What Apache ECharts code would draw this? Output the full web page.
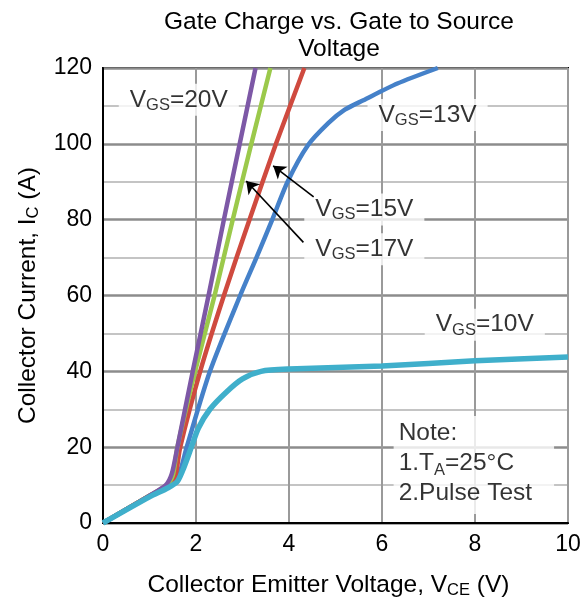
<!DOCTYPE html>
<html><head><meta charset="utf-8">
<script src="https://cdn.jsdelivr.net/npm/echarts@6/dist/echarts.min.js"></script>
<style>html,body{margin:0;padding:0;background:#fff}#c{width:585px;height:605px}</style>
</head><body><div id="c"></div>
<script>
// ---- data (VCE in V, IC in A) ----
const xTicks = [0, 2, 4, 6, 8, 10];
const yTicks = [0, 20, 40, 60, 80, 100, 120];
const vgs20 = [[0,0],[1.0,7.2],[1.35,10],[1.48,13],[1.6,20],[1.93,40],[2.27,60],[2.6,80],[2.94,100],[3.28,120]];
const vgs17 = [[0,0],[1.0,7.2],[1.37,10],[1.5,12.5],[1.6,20],[1.98,40],[2.4,60],[2.79,80],[3.19,100],[3.6,120]];
const vgs15 = [[0,0],[1.0,7.2],[1.4,10],[1.55,12],[1.66,20],[2.09,40],[2.6,60],[3.15,80],[3.72,100],[4.33,120]];
const vgs13 = [[0,0],[1.0,7.1],[1.4,9.6],[1.6,11.5],[1.8,20],[2.3,40],[2.95,60],[3.3,70],[3.64,80],[3.97,90],[4.4,99.5],[4.85,105.5],[5.2,109],[5.6,111.5],[6.33,115.9],[7.2,120]];
const vgs10 = [[0,0],[1.0,6.9],[1.4,9.3],[1.6,11],[1.75,15],[1.9,20],[2.05,25],[2.3,30],[2.65,34.5],[3.0,38],[3.4,40],[4.0,40.6],[6.0,41.4],[8.0,42.8],[10,43.8]];
const seriesNames = ['VGS=13V', 'VGS=15V', 'VGS=17V', 'VGS=20V', 'VGS=10V'];
const labelTexts = ['V{s|GS}=20V', 'V{s|GS}=13V', 'V{s|GS}=15V', 'V{s|GS}=17V', 'V{s|GS}=10V'];
const labelAt = [[1.63,111.6],[6.98,107.6],[5.62,82.7],[5.62,72.2],[8.21,52.3]];
const noteText = 'Note:\n1.T{s|A}=25°C\n2.Pulse Test';
const noteAt = [6.25, 28.2];
const arrowFrom = [[4.53,86],[4.31,74]];
const arrowTo = [[3.66,94.2],[3.08,90.2]];

const F = '"Liberation Sans", Arial, sans-serif';
const colors = ['#4581C9', '#CF4A3F', '#9BC94B', '#7D58A6', '#3FAFCB'];
const widths = [4.5, 4.5, 4.5, 4.5, 5.5];
const curves = [vgs13, vgs15, vgs17, vgs20, vgs10];
const sub = { fontSize: 16.5, fontFamily: F, color: '#000', verticalAlign: 'bottom', lineHeight: 16, padding: [0, 0, -1, 0] };

const chart = echarts.init(document.getElementById('c'), null, { renderer: 'canvas' });
const series = curves.map((d, i) => ({
  name: seriesNames[i], type: 'line', data: d, showSymbol: false, smooth: 0.25,
  lineStyle: { color: colors[i], width: widths[i] }, itemStyle: { color: colors[i] }, z: 3 + i, clip: true
}));
series[1].markLine = {
  silent: true, animation: false, symbol: ['none', 'arrow'], symbolSize: 12,
  lineStyle: { color: '#000', width: 1.6, type: 'solid' }, label: { show: false },
  data: arrowFrom.map((f, i) => [{ coord: f }, { coord: arrowTo[i] }])
};
series.push({
  type: 'scatter', silent: true, z: 2, symbolSize: 1, itemStyle: { color: 'rgba(0,0,0,0)' },
  data: labelAt.map((p, i) => ({ value: p, label: { formatter: labelTexts[i] } })),
  label: { show: true, position: 'inside', color: '#000', fontSize: 24.5, fontFamily: F, lineHeight: 26,
    backgroundColor: '#fff', padding: [3, 11], rich: { s: sub } }
});
series.push({
  type: 'scatter', silent: true, z: 2, symbolSize: 1, itemStyle: { color: 'rgba(0,0,0,0)' },
  data: [{ value: noteAt, label: { formatter: noteText } }],
  label: { show: true, position: 'inside', align: 'left', verticalAlign: 'top', color: '#000', fontSize: 24.5,
    fontFamily: F, lineHeight: 30, backgroundColor: '#fff', padding: [2, 22, 6, 5], rich: { s: sub } }
});

chart.setOption({
  animation: false,
  backgroundColor: '#fff',
  title: {
    text: 'Gate Charge vs. Gate to Source\nVoltage', left: 334, top: 4, textAlign: 'center',
    textStyle: { fontFamily: F, fontSize: 24.5, fontWeight: 'normal', color: '#000', lineHeight: 27 }
  },
  grid: { left: 103, right: 17, top: 68, bottom: 82, show: true, borderColor: '#000', borderWidth: 2, backgroundColor: 'transparent' },
  xAxis: {
    type: 'value', min: xTicks[0], max: xTicks[xTicks.length - 1], interval: xTicks[1] - xTicks[0],
    name: '{a|Collector Emitter Voltage, V}{s|CE}{a| (V)}', nameLocation: 'middle', nameGap: 49,
    nameTextStyle: { padding: [0, 14, 0, 0], rich: { a: { fontSize: 24.5, fontFamily: F, color: '#000', lineHeight: 26 }, s: sub } },
    axisLine: { show: true, lineStyle: { color: '#000', width: 2 } },
    axisTick: { show: false },
    axisLabel: { color: '#000', fontSize: 23, fontFamily: F, margin: 10 },
    splitLine: { show: true, lineStyle: { color: '#9a9a9a', width: 2 } }
  },
  yAxis: {
    type: 'value', min: yTicks[0], max: yTicks[yTicks.length - 1], interval: yTicks[1] - yTicks[0],
    name: '{a|Collector Current, I}{s|C}{a| (A)}', nameLocation: 'middle', nameGap: 62,
    nameTextStyle: { rich: { a: { fontSize: 24.5, fontFamily: F, color: '#000', lineHeight: 26 }, s: sub } },
    axisLine: { show: true, lineStyle: { color: '#000', width: 2 } },
    axisTick: { show: false },
    axisLabel: { color: '#000', fontSize: 23, fontFamily: F, margin: 11 },
    splitLine: { show: true, lineStyle: { color: '#8c8c8c', width: 2.5 } },
    minorTick: { show: false, splitNumber: 2 },
    minorSplitLine: { show: true, lineStyle: { color: '#c4c4c4', width: 2 } }
  },
  series: series
});
</script></body></html>
